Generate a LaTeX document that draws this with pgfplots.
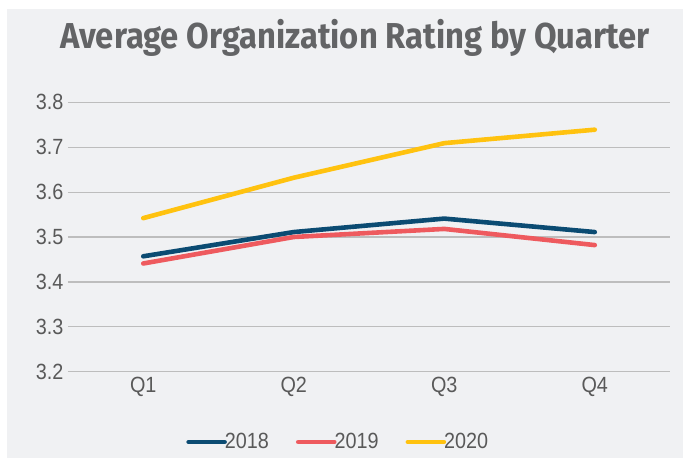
\documentclass[border=0pt]{standalone}
\usepackage{pgfplots}
\pgfplotsset{compat=1.18}
\usepackage{fontspec}
\setmainfont{Liberation Sans}
\newfontfamily\tickfont[FakeStretch=0.9]{Liberation Sans}
\newfontfamily\titlefont[FakeStretch=0.91]{Fira Sans}
\definecolor{bgc}{HTML}{F0F1F3}
\definecolor{titlec}{HTML}{636466}
\definecolor{tickc}{HTML}{595959}
\definecolor{gridc}{HTML}{BDBDBD}
\definecolor{c18}{HTML}{0B4B72}
\definecolor{c19}{HTML}{EE5A5E}
\definecolor{c20}{HTML}{FFC20F}
\begin{document}
\begin{tikzpicture}[x=1pt,y=1pt]
\fill[white] (0,0) rectangle (686,458);
\fill[bgc] (7,0) rectangle (683,449);
\node[font=\titlefont\bfseries\fontsize{36}{40}\selectfont, text=titlec, anchor=base, inner sep=0pt] at (355,409) {Average Organization Rating by Quarter};
\begin{axis}[
  at={(68pt,86.3pt)}, anchor=south west,
  scale only axis, width=602pt, height=269.4pt,
  xmin=-0.5, xmax=3.5, ymin=3.2, ymax=3.8,
  xtick={0,1,2,3}, xticklabels={Q1,Q2,Q3,Q4},
  ytick={3.2,3.3,3.4,3.5,3.6,3.7,3.8},
  yticklabel style={/pgf/number format/fixed, /pgf/number format/precision=1, /pgf/number format/fixed zerofill},
  /pgf/number format/assume math mode=true,
  ymajorgrids, grid style={gridc, line width=1.2pt},
  axis line style={draw=none}, major tick length=0pt,
  tick label style={font=\tickfont\fontsize{22}{24}\selectfont, text=tickc},
  xticklabel style={yshift=-2pt},
  yticklabel style={xshift=-1pt},
  legend columns=3,
  legend style={draw=none, fill=none, at={(0.449,-0.261)}, anchor=center,
    font=\tickfont\fontsize{22}{24}\selectfont, text=tickc,
    /tikz/every even column/.append style={column sep=25pt}},
  legend image code/.code={\draw[#1, line width=4.6pt, line cap=round] (0pt,0pt) -- (36pt,0pt);},
  every axis plot/.append style={line width=4.6pt, line cap=round, line join=round},
]
\addplot[c18] coordinates {(0,3.457) (1,3.511) (2,3.541) (3,3.511)};
\addlegendentry{\hspace{-4pt}2018}
\addplot[c19] coordinates {(0,3.441) (1,3.500) (2,3.518) (3,3.482)};
\addlegendentry{\hspace{-4pt}2019}
\addplot[c20] coordinates {(0,3.542) (1,3.632) (2,3.709) (3,3.739)};
\addlegendentry{\hspace{-4pt}2020}
\end{axis}
\end{tikzpicture}
\end{document}
